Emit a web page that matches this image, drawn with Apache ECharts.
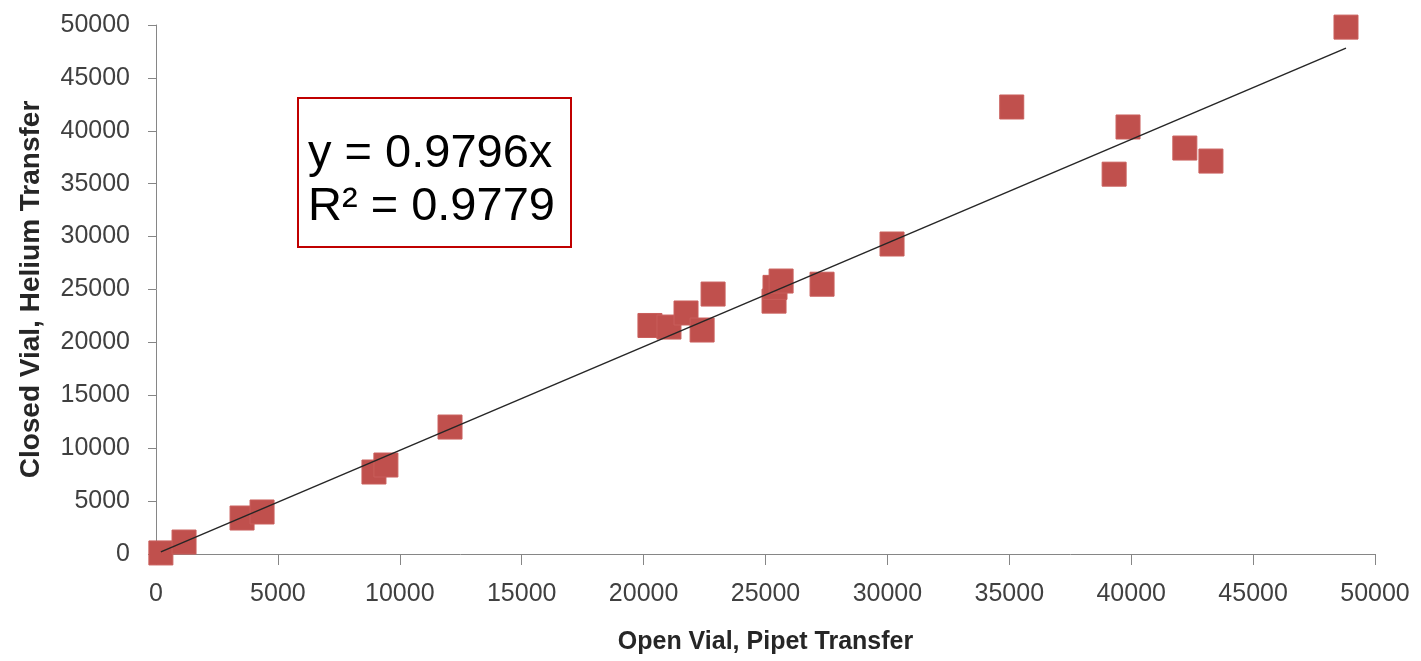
<!DOCTYPE html>
<html>
<head>
<meta charset="utf-8">
<script src="https://cdn.jsdelivr.net/npm/echarts@6/dist/echarts.min.js"></script>
<style>html,body{margin:0;padding:0;background:#fff}#c{width:1421px;height:661px}</style>
</head>
<body>
<div id="c"></div>
<script>
// Data
const openVial = [200, 1150, 3530, 4350, 8940, 9430, 12060, 20260, 21040, 21740, 22400, 22850, 25350, 25390, 25640, 27320, 30190, 35100, 39870, 39300, 42200, 43270, 48810];
const closedVial = [100, 1130, 3400, 3970, 7750, 8410, 12000, 21600, 21450, 22780, 21170, 24570, 23900, 25200, 25800, 25500, 29300, 42250, 40360, 35900, 38370, 37140, 49800];
const trendX = [200, 48810];
const trendY = [196, 47814];
const equationText = ['y = 0.9796x', 'R\u00B2 = 0.9779'];
const xTitle = 'Open Vial, Pipet Transfer';
const yTitle = 'Closed Vial, Helium Transfer';

const points = openVial.map((x, i) => [x, closedVial[i]]);
const trend = trendX.map((x, i) => [x, trendY[i]]);

const chart = echarts.init(document.getElementById('c'), null, {renderer: 'canvas'});
const fmt = v => String(v);
const axisCommon = {
  type: 'value', min: 0, max: 50000, interval: 5000,
  splitLine: {show: false},
  axisLine: {show: true, lineStyle: {color: '#868686', width: 1}},
  nameLocation: 'middle'
};
chart.setOption({
  animation: false,
  grid: {left: 156, right: 46, top: 25, bottom: 107},
  xAxis: Object.assign({}, axisCommon, {
    name: xTitle, nameGap: 76,
    nameTextStyle: {fontFamily: 'Liberation Sans', fontWeight: 'bold', fontSize: 25, color: '#262626'},
    axisTick: {show: true, length: 11, lineStyle: {color: '#868686'}},
    axisLabel: {margin: 28, formatter: fmt, fontFamily: 'Liberation Sans', fontSize: 25, color: '#404040'}
  }),
  yAxis: Object.assign({}, axisCommon, {
    name: yTitle, nameGap: 111,
    nameTextStyle: {fontFamily: 'Liberation Sans', fontWeight: 'bold', fontSize: 28, color: '#262626'},
    axisTick: {show: true, length: 8, lineStyle: {color: '#868686'}},
    axisLabel: {margin: 26, formatter: fmt, fontFamily: 'Liberation Sans', fontSize: 25, color: '#404040'}
  }),
  series: [
    {
      type: 'scatter', data: points, symbol: 'rect', symbolSize: 24,
      itemStyle: {color: '#C0504D', borderColor: '#C95E5B', borderWidth: 1, opacity: 1},
      z: 2
    },
    {
      type: 'line', data: trend, showSymbol: false, symbol: 'none',
      lineStyle: {color: '#262626', width: 1.5},
      z: 3
    }
  ],
  graphic: [
    {
      type: 'rect', left: 297, top: 97,
      shape: {width: 273, height: 149},
      style: {fill: '#fff', stroke: '#C00000', lineWidth: 2}, z: 10
    },
    {
      type: 'text', left: 308, top: 131,
      style: {text: equationText[0], font: '47px "Liberation Sans"', fill: '#000'}, z: 11
    },
    {
      type: 'text', left: 308, top: 184,
      style: {text: equationText[1], font: '47px "Liberation Sans"', fill: '#000'}, z: 11
    }
  ]
});
</script>
</body>
</html>
